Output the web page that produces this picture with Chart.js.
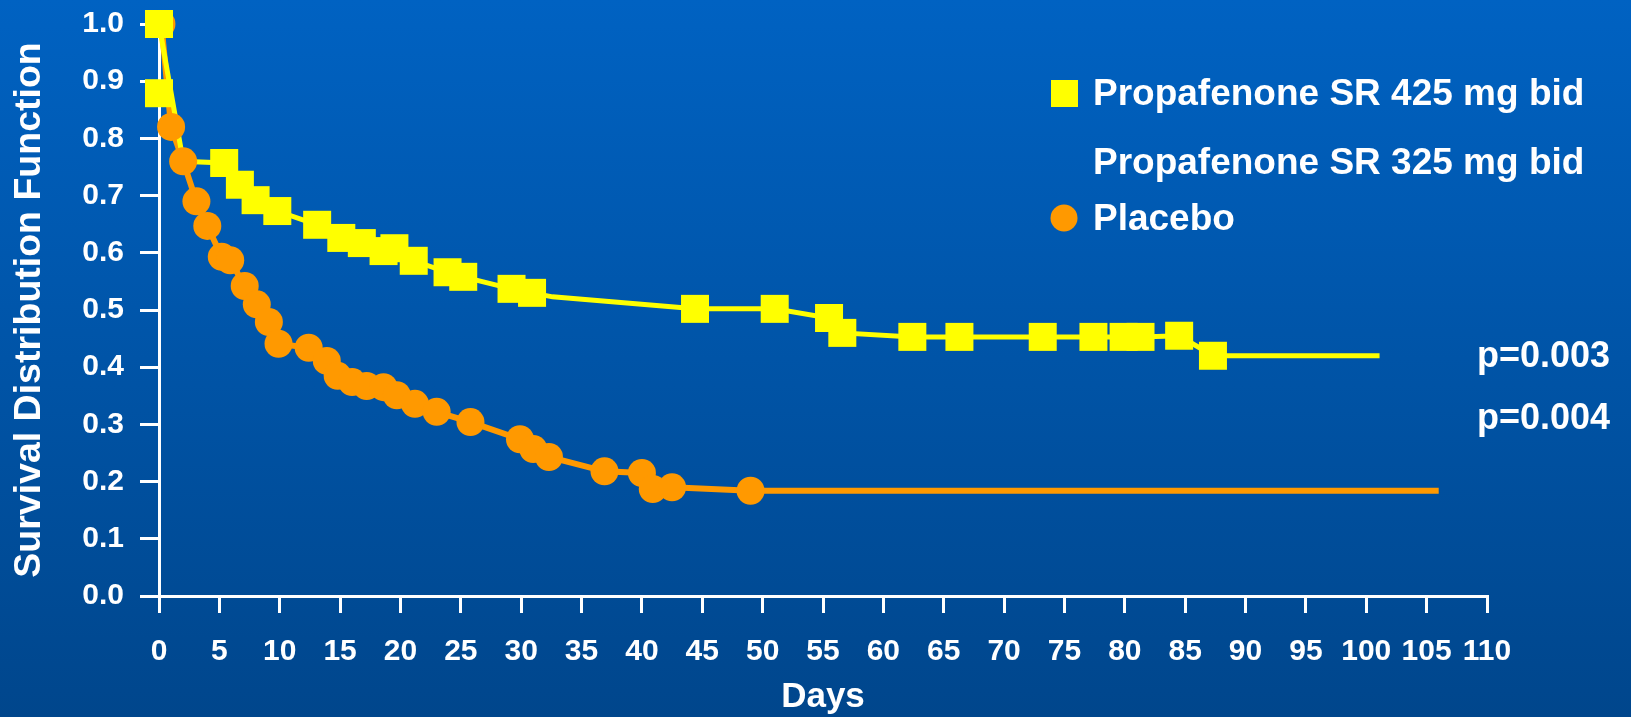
<!DOCTYPE html>
<html>
<head>
<meta charset="utf-8">
<script src="https://cdn.jsdelivr.net/npm/chart.js@4/dist/chart.umd.min.js"></script>
<style>
  html, body { margin: 0; padding: 0; background: #0055a8; overflow: hidden; }
  #wrap { width: 1631px; height: 717px; position: relative; }
  canvas { display: block; }
</style>
</head>
<body>
<div id="wrap"><canvas id="c" width="1631" height="717" style="width:1631px;height:717px"></canvas></div>
<script>
// ---------------- data ----------------
const xTickLabels = ['0','5','10','15','20','25','30','35','40','45','50','55','60','65','70','75','80','85','90','95','100','105','110'];
const yTickLabels = ['0.0','0.1','0.2','0.3','0.4','0.5','0.6','0.7','0.8','0.9','1.0'];
const seriesLabels = ['Propafenone SR 425 mg bid', 'Propafenone SR 325 mg bid', 'Placebo'];
const pValueLabels = ['p=0.003', 'p=0.004'];
const xTitle = 'Days';
const yTitle = 'Survival Distribution Function';

// Propafenone SR 425 mg bid - curve vertices
const prop425LineDays = [0, 2.0, 5.4, 6.7, 8.0, 9.8, 13.1, 15.1, 16.8, 18.6, 19.5, 21.1, 23.9, 25.2, 29.2, 30.9, 32.6, 44.4, 51.0, 55.5, 56.6, 62.4, 66.3, 73.2, 77.4, 79.9, 81.3, 84.5, 87.3, 101.1];
const prop425LineSurv = [1.0, 0.76, 0.757, 0.719, 0.692, 0.673, 0.649, 0.626, 0.617, 0.603, 0.608, 0.586, 0.566, 0.558, 0.537, 0.530, 0.523, 0.502, 0.502, 0.486, 0.460, 0.453, 0.453, 0.453, 0.453, 0.453, 0.453, 0.455, 0.420, 0.420];
// Propafenone SR 425 mg bid - square marks
const prop425MarkDays = [0, 0, 5.4, 6.7, 8.0, 9.8, 13.1, 15.1, 16.8, 18.6, 19.5, 21.1, 23.9, 25.2, 29.2, 30.9, 44.4, 51.0, 55.5, 56.6, 62.4, 66.3, 73.2, 77.4, 79.9, 81.3, 84.5, 87.3];
const prop425MarkSurv = [1.0, 0.879, 0.757, 0.719, 0.692, 0.673, 0.649, 0.626, 0.617, 0.603, 0.608, 0.586, 0.566, 0.558, 0.537, 0.530, 0.502, 0.502, 0.486, 0.460, 0.453, 0.453, 0.453, 0.453, 0.453, 0.453, 0.455, 0.420];

// Placebo - circle marks
const placeboDays = [0.2, 1.0, 2.0, 3.1, 4.0, 5.2, 5.9, 7.1, 8.1, 9.1, 9.9, 12.4, 13.9, 14.8, 16.0, 17.2, 18.6, 19.7, 21.2, 23.0, 25.8, 29.9, 31.0, 32.3, 36.9, 40.0, 40.9, 42.5, 49.0];
const placeboSurv = [1.0, 0.82, 0.76, 0.69, 0.647, 0.593, 0.587, 0.542, 0.510, 0.479, 0.441, 0.434, 0.411, 0.385, 0.374, 0.367, 0.365, 0.351, 0.336, 0.322, 0.304, 0.274, 0.257, 0.243, 0.218, 0.215, 0.187, 0.190, 0.184];
const placeboLastDay = 106.0;
const placeboLastSurv = 0.184;

// ---------------- styles ----------------
const FONT = "'Liberation Sans', Arial, Helvetica, sans-serif";
const YELLOW = '#FFFF00';
const ORANGE = '#FF9900';
const WHITE = '#FFFFFF';

const toXY = (xs, ys) => xs.map((x, i) => ({ x: x, y: ys[i] }));

const placeboLine = toXY(placeboDays, placeboSurv).concat([{ x: placeboLastDay, y: placeboLastSurv }]);

const legendItems = [
  { text: seriesLabels[0], style: 'rect', color: YELLOW },
  { text: seriesLabels[1], style: null, color: null },
  { text: seriesLabels[2], style: 'circle', color: ORANGE }
];

const bgPlugin = {
  id: 'bg',
  beforeDraw(chart) {
    const { ctx, width, height } = chart;
    const g = ctx.createLinearGradient(0, 0, 0, height);
    g.addColorStop(0, '#0062C2');
    g.addColorStop(1, '#00468C');
    ctx.save();
    ctx.fillStyle = g;
    ctx.fillRect(0, 0, width, height);
    ctx.restore();
  }
};

const annotPlugin = {
  id: 'annot',
  afterDraw(chart) {
    const ctx = chart.ctx;
    ctx.save();
    ctx.font = 'bold 37px ' + FONT;
    ctx.textBaseline = 'middle';
    ctx.textAlign = 'left';
    const legendY = [93, 162, 218];
    legendItems.forEach((it, i) => {
      const y = legendY[i];
      if (it.style === 'rect') {
        ctx.fillStyle = it.color;
        ctx.fillRect(1051, y - 13, 27, 27);
      } else if (it.style === 'circle') {
        ctx.fillStyle = it.color;
        ctx.beginPath();
        ctx.arc(1064, y, 13.5, 0, Math.PI * 2);
        ctx.fill();
      }
      ctx.fillStyle = WHITE;
      ctx.fillText(it.text, 1093, y + 2);
    });
    ctx.font = 'bold 36px ' + FONT;
    const pY = [357, 419];
    pValueLabels.forEach((t, i) => {
      ctx.fillStyle = WHITE;
      ctx.fillText(t, 1477, pY[i]);
    });
    ctx.restore();
  }
};

new Chart(document.getElementById('c'), {
  type: 'line',
  data: {
    datasets: [
      {
        label: seriesLabels[0],
        data: toXY(prop425MarkDays, prop425MarkSurv),
        showLine: false,
        pointStyle: 'rect',
        pointRadius: 19.8,
        pointHoverRadius: 19.8,
        pointBackgroundColor: YELLOW,
        pointBorderWidth: 0,
        borderColor: YELLOW,
        clip: false,
        order: 0
      },
      {
        label: seriesLabels[2],
        data: toXY(placeboDays, placeboSurv),
        showLine: false,
        pointStyle: 'circle',
        pointRadius: 14,
        pointHoverRadius: 14,
        pointBackgroundColor: ORANGE,
        pointBorderWidth: 0,
        borderColor: ORANGE,
        clip: false,
        order: 1
      },
      {
        label: seriesLabels[0] + ' curve',
        data: toXY(prop425LineDays, prop425LineSurv),
        borderColor: YELLOW,
        borderWidth: 5,
        pointRadius: 0,
        tension: 0,
        clip: false,
        order: 2
      },
      {
        label: seriesLabels[2] + ' curve',
        data: placeboLine,
        borderColor: ORANGE,
        borderWidth: 6,
        pointRadius: 0,
        tension: 0,
        clip: false,
        order: 3
      },
      {
        label: seriesLabels[1],
        data: [],
        borderColor: WHITE,
        pointRadius: 0,
        order: 4
      }
    ]
  },
  options: {
    responsive: false,
    animation: false,
    events: [],
    layout: { padding: { left: 0, top: 24, right: 144, bottom: 0 } },
    plugins: {
      legend: { display: false },
      tooltip: { enabled: false }
    },
    scales: {
      x: {
        type: 'linear',
        min: 0,
        max: 110,
        afterFit(scale) { scale.height = 121; },
        border: { display: true, color: WHITE, width: 3 },
        grid: { drawOnChartArea: false, drawTicks: true, tickLength: 17, color: WHITE, lineWidth: 3 },
        ticks: {
          stepSize: 5,
          autoSkip: false,
          maxRotation: 0,
          color: WHITE,
          padding: 21,
          font: { family: FONT, size: 30, weight: 'bold' },
          callback: (v, i) => xTickLabels[i]
        },
        title: {
          display: true,
          text: xTitle,
          color: WHITE,
          font: { family: FONT, size: 35, weight: 'bold', lineHeight: 1.1 },
          padding: { top: 0, bottom: 0 }
        }
      },
      y: {
        type: 'linear',
        min: 0,
        max: 1,
        afterFit(scale) {
          scale.width = 159;
          scale.paddingTop = 0;
          scale.paddingBottom = 0;
        },
        border: { display: true, color: WHITE, width: 3 },
        grid: { drawOnChartArea: false, drawTicks: true, tickLength: 19, color: WHITE, lineWidth: 3 },
        ticks: {
          stepSize: 0.1,
          color: WHITE,
          padding: 16,
          font: { family: FONT, size: 30, weight: 'bold' },
          callback: (v, i) => yTickLabels[i]
        },
        title: {
          display: true,
          text: yTitle,
          color: WHITE,
          font: { family: FONT, size: 37.5, weight: 'bold' },
          padding: { top: 7, bottom: 0 }
        }
      }
    }
  },
  plugins: [bgPlugin, annotPlugin]
});
</script>
</body>
</html>
